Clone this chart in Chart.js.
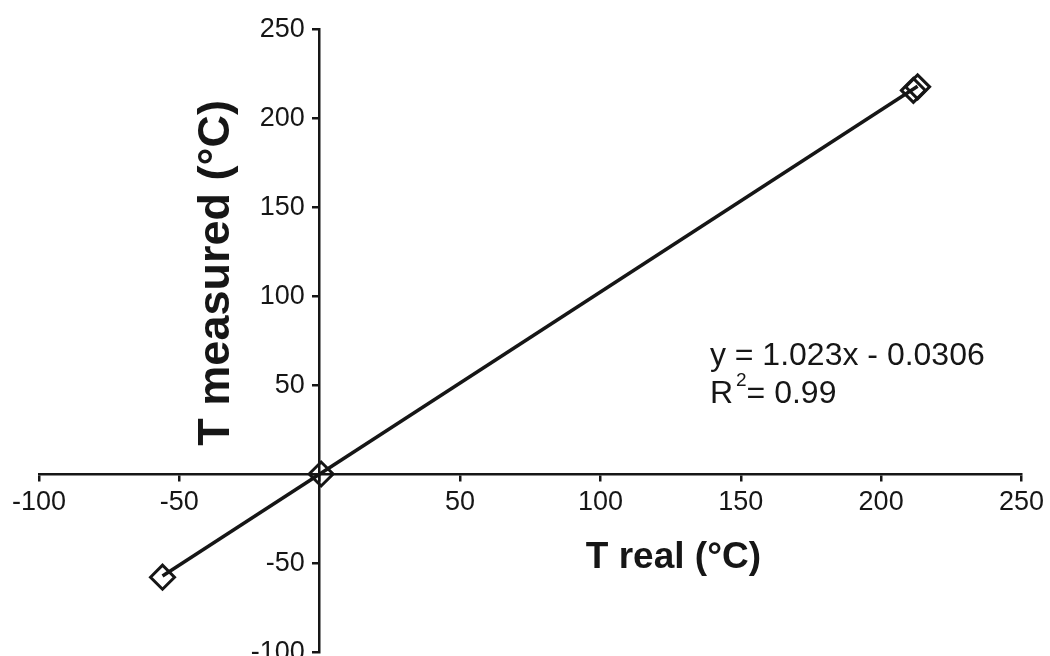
<!DOCTYPE html>
<html>
<head>
<meta charset="utf-8">
<script src="https://cdn.jsdelivr.net/npm/chart.js@4/dist/chart.umd.min.js"></script>
<style>
  html, body { margin: 0; padding: 0; background: #fff; }
  #wrap { width: 1050px; height: 656px; }
</style>
</head>
<body>
<div id="wrap"><canvas id="calib" width="1050" height="656"></canvas></div>
<script>
// calibration points
const realT = [-56, 0.5, 211.5, 213];
const measuredT = [-58, 0, 215.5, 217.5];

// linear fit shown on the plot
const slope = 1.023;
const intercept = -0.0306;
const rSquared = 0.99;

const xTicks = [-100, -50, 0, 50, 100, 150, 200, 250];
const yTicks = [-100, -50, 0, 50, 100, 150, 200, 250];

const points = realT.map((x, i) => ({ x: x, y: measuredT[i] }));
const xMin = Math.min(...realT);
const xMax = Math.max(...realT);
const fitLine = [
    { x: xMin, y: slope * xMin + intercept },
    { x: xMax, y: slope * xMax + intercept }
];

const FONT = '"Liberation Sans", Arial, sans-serif';
const INK = '#161616';

// y tick labels, axis titles and the fit equation
const annotations = {
    id: 'annotations',
    afterDraw(chart) {
        const ctx = chart.ctx;
        const xs = chart.scales.x;
        const ys = chart.scales.y;
        const axisX = xs.getPixelForValue(0);
        const axisY = ys.getPixelForValue(0);
        ctx.save();
        ctx.fillStyle = INK;

        // y tick labels sit left of the vertical axis
        ctx.font = '27px ' + FONT;
        ctx.textAlign = 'right';
        ctx.textBaseline = 'middle';
        ys.ticks.forEach(t => {
            if (t.value === 0) return;
            ctx.fillText(String(t.value), axisX - 15, ys.getPixelForValue(t.value) + 1);
        });

        ctx.font = 'bold 37px ' + FONT;
        ctx.textAlign = 'center';
        ctx.fillText('T real (\u00B0C)', xs.getPixelForValue(126), axisY + 84);

        ctx.save();
        ctx.font = 'bold 45px ' + FONT;
        ctx.translate(axisX - 103, ys.getPixelForValue(113));
        ctx.rotate(-Math.PI / 2);
        ctx.fillText('T measured (\u00B0C)', 0, 0);
        ctx.restore();

        ctx.font = '32px ' + FONT;
        ctx.textAlign = 'left';
        const ex = xs.getPixelForValue(139);
        ctx.fillText('y = ' + slope + 'x - ' + Math.abs(intercept), ex, ys.getPixelForValue(66));

        const ry = ys.getPixelForValue(45);
        ctx.fillText('R', ex, ry);
        let w = ctx.measureText('R').width + 3;
        ctx.font = '19px ' + FONT;
        ctx.fillText('2', ex + w, ry - 13);
        w += ctx.measureText('2').width;
        ctx.font = '32px ' + FONT;
        ctx.fillText('= ' + rSquared, ex + w, ry);
        ctx.restore();
    }
};

const tickLabel = (v) => (v === 0 ? '' : String(v));

new Chart(document.getElementById('calib'), {
    type: 'scatter',
    data: {
        datasets: [
            {
                label: 'Fit',
                type: 'line',
                data: fitLine,
                borderColor: INK,
                borderWidth: 3.5,
                pointRadius: 0,
                fill: false,
                order: 2
            },
            {
                label: 'Measured',
                data: points,
                pointStyle: 'rectRot',
                pointRadius: 12,
                pointBackgroundColor: 'rgba(255,255,255,0)',
                pointBorderColor: INK,
                pointBorderWidth: 3,
                order: 1
            }
        ]
    },
    options: {
        responsive: false,
        animation: false,
        layout: { autoPadding: false, padding: { left: 39, right: 28, top: 29, bottom: 4 } },
        plugins: {
            legend: { display: false },
            tooltip: { enabled: false }
        },
        scales: {
            x: {
                type: 'linear',
                position: { y: 0 },
                min: -100,
                max: 250,
                afterBuildTicks: (s) => { s.ticks = xTicks.map(v => ({ value: v })); },
                border: { display: true, color: INK, width: 2.5 },
                grid: { drawOnChartArea: false, drawTicks: true, tickLength: 6, color: INK, lineWidth: 2.5 },
                ticks: {
                    callback: tickLabel,
                    color: INK,
                    padding: 6,
                    maxRotation: 0,
                    font: { family: FONT, size: 27 }
                }
            },
            y: {
                type: 'linear',
                position: { x: 0 },
                min: -100,
                max: 250,
                afterBuildTicks: (s) => { s.ticks = yTicks.map(v => ({ value: v })); },
                border: { display: true, color: INK, width: 2.5 },
                grid: { drawOnChartArea: false, drawTicks: true, tickLength: 6, color: INK, lineWidth: 2.5 },
                ticks: { display: false }
            }
        }
    },
    plugins: [annotations]
});
</script>
</body>
</html>
